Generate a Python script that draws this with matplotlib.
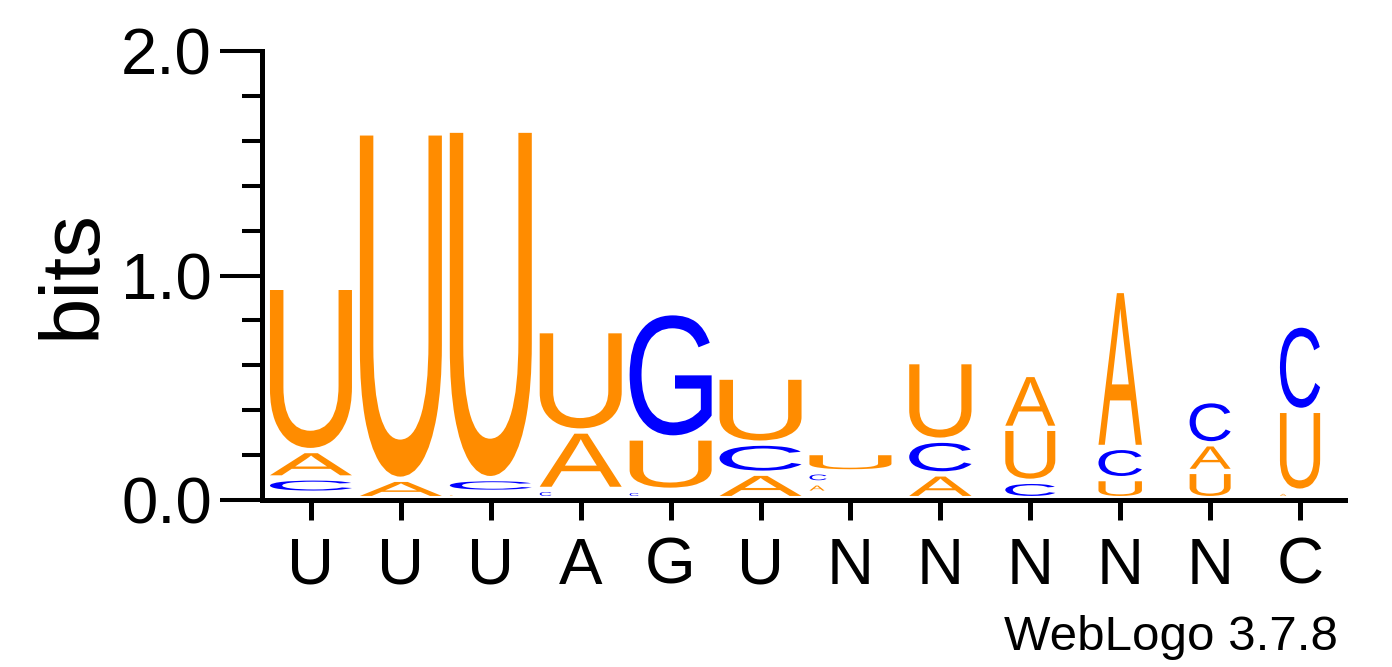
import matplotlib
matplotlib.use("Agg")
import matplotlib.pyplot as plt
from matplotlib.textpath import TextPath
from matplotlib.patches import PathPatch
from matplotlib.font_manager import FontProperties
from matplotlib.transforms import Affine2D

# consensus labels under each column
positions = list(range(1, 13))
consensus = ['U', 'U', 'U', 'A', 'G', 'U', 'N', 'N', 'N', 'N', 'N', 'C']

# letter heights (bits) per column
bits_A = [0.122, 0.086, 0.028, 0.260, 0.000, 0.113, 0.046, 0.110, 0.240, 0.699, 0.123, 0.033]
bits_C = [0.068, 0.000, 0.061, 0.041, 0.037, 0.134, 0.049, 0.150, 0.077, 0.139, 0.192, 0.380]
bits_G = [0.024, 0.000, 0.000, 0.000, 0.558, 0.000, 0.024, 0.000, 0.000, 0.000, 0.000, 0.000]
bits_U = [0.727, 1.543, 1.552, 0.447, 0.233, 0.294, 0.086, 0.350, 0.236, 0.089, 0.121, 0.360]

# column width (occupancy) - later columns are narrower
col_width = [1.0, 1.0, 1.0, 1.0, 1.0, 1.0, 1.0, 0.76, 0.61, 0.53, 0.50, 0.49]

colors = {'A': '#FF8C00', 'U': '#FF8C00', 'C': '#0000FF', 'G': '#0000FF'}

FONT = 'Liberation Sans'
letter_prop = FontProperties(family=FONT)

BASE = 0.018   # first glyph sits a little above the axis
GAP = 0.0236   # blank strip at the top of every letter box
WIDTH = 0.912
TINY = 0.03    # glyphs shorter than this render as small marks at the left


def draw_letter(ax, ch, x0, y0, w, h, color):
    tp = TextPath((0, 0), ch, size=1, prop=letter_prop)
    bb = tp.get_extents()
    t = (Affine2D().translate(-bb.x0, -bb.y0)
         .scale(w / bb.width, h / bb.height)
         .translate(x0, y0))
    ax.add_patch(PathPatch(t.transform_path(tp), facecolor=color, lw=0))


fig = plt.figure(figsize=(13.92, 6.67), dpi=100)
ax = fig.add_axes([266 / 1392, 167 / 667, 1079 / 1392, 449 / 667])

for i, x in enumerate(positions):
    stack = [('A', bits_A[i]), ('C', bits_C[i]), ('G', bits_G[i]), ('U', bits_U[i])]
    stack = sorted([s for s in stack if s[1] > 0], key=lambda s: s[1])
    full_w = WIDTH * col_width[i]
    left = x - full_w / 2
    y = BASE
    for ch, h in stack:
        ink = h - GAP
        if ink > 0.002:
            w = full_w if ink >= TINY else min(full_w, ink * 7.5)
            draw_letter(ax, ch, left, y, w, ink, colors[ch])
        y += h

ax.set_xlim(0.5, 12.5)
ax.set_ylim(0, 2.0)

for s in ['top', 'right']:
    ax.spines[s].set_visible(False)
ax.spines['left'].set_position(('outward', 3))
ax.spines['left'].set_linewidth(3.6)
ax.spines['bottom'].set_linewidth(3.6)

ax.set_yticks([0, 1, 2], ['0.0', '1.0', '2.0'])
ax.set_yticks([0.2, 0.4, 0.6, 0.8, 1.2, 1.4, 1.6, 1.8], minor=True)
ax.set_xticks(positions, consensus)

ax.tick_params(axis='y', which='major', direction='out', length=30, width=2.9,
               pad=6, labelsize=47)
ax.tick_params(axis='y', which='minor', direction='out', length=14.5, width=2.9)
ax.tick_params(axis='x', which='major', direction='out', length=14.4, width=3.6,
               pad=12, labelsize=47)
for lab in ax.get_xticklabels() + ax.get_yticklabels():
    lab.set_fontfamily(FONT)

fig.text(34 / 1392, 1 - 274 / 667, 'bits', rotation=90, ha='left', va='center',
         fontsize=60, family=FONT)
fig.text(1338 / 1392, 1 - 650 / 667, 'WebLogo 3.7.8', ha='right', va='baseline',
         fontsize=35.5, family=FONT)

fig.savefig('out.png', dpi=100)
